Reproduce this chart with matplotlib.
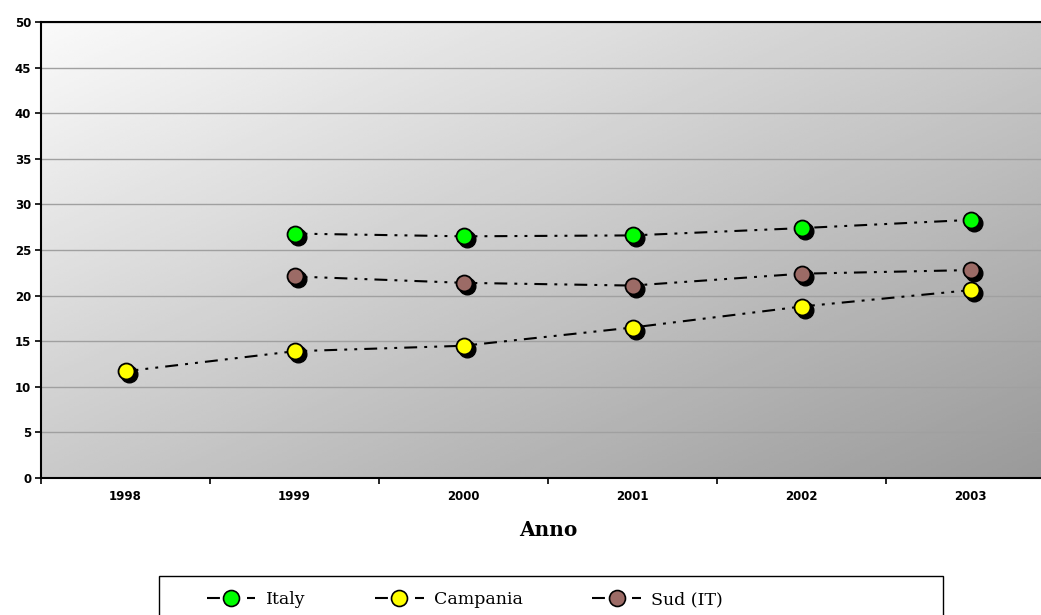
import matplotlib.pyplot as plt
import matplotlib.transforms as mtransforms
from matplotlib.patches import Rectangle
import numpy as np

years = ["1998", "1999", "2000", "2001", "2002", "2003"]
italy = [None, 26.8, 26.5, 26.6, 27.4, 28.3]
campania = [11.7, 13.9, 14.5, 16.5, 18.8, 20.6]
sud = [None, 22.1, 21.4, 21.1, 22.4, 22.8]

series = [
    ("Italy", italy, "#00ff00"),
    ("Campania", campania, "#ffff00"),
    ("Sud (IT)", sud, "#9c6b66"),
]

W, H = 1041, 615
fig = plt.figure(figsize=(W / 100, H / 100), dpi=100)
# plot area runs past the right edge of the picture, as in the original
ax = fig.add_axes([41 / W, 1 - 478 / H, (1055 - 41) / W, (478 - 22) / H])

# diagonal grey gradient, light top-left to dark bottom-right
gx, gy = np.meshgrid(np.linspace(0, 1, 200), np.linspace(0, 1, 200))
t = (gx + gy) / 2
ax.imshow(0.98 - 0.38 * t, cmap="gray", vmin=0, vmax=1, extent=[0, 1, 0, 1],
          transform=ax.transAxes, aspect="auto", zorder=0, origin="upper")

x = np.arange(len(years))
dash = (0, (6.2, 3.4, 1.4, 3.4, 1.4, 3.4))
shadow = mtransforms.ScaledTranslation(3 / 100, -3 / 100, fig.dpi_scale_trans)
handles = []
for name, vals, color in series:
    xs = [xi for xi, v in zip(x, vals) if v is not None]
    ys = [v for v in vals if v is not None]
    ax.plot(xs, ys, linestyle=dash, color="black", lw=1.5, zorder=3)
    ax.plot(xs, ys, linestyle="none", marker="o", ms=12, mfc="black",
            mec="black", transform=ax.transData + shadow, zorder=4)
    ax.plot(xs, ys, linestyle="none", marker="o", ms=11.5, mfc=color,
            mec="black", mew=1.3, zorder=5)
    handles.append(ax.plot([], [], linestyle=dash, color="black", lw=1.5,
                           marker="o", ms=11.5, mfc=color, mec="black",
                           mew=1.2)[0])

ax.set_xlim(-0.5, len(years) - 0.5)
ax.set_ylim(0, 50)
ax.set_yticks(range(0, 51, 5))
ax.set_xticks(x)
ax.set_xticklabels(years)
ax.set_xticks(np.arange(-0.5, len(years), 1), minor=True)
ax.tick_params(axis="x", which="major", length=0, pad=9)
ax.tick_params(axis="x", which="minor", length=4, width=1.2, direction="out")
ax.tick_params(axis="y", length=4, width=1.2, pad=3)
for lab in ax.get_xticklabels() + ax.get_yticklabels():
    lab.set_fontweight("bold")
    lab.set_fontsize(8.5)
    lab.set_family("DejaVu Sans")
ax.grid(axis="y", color="#a0a0a0", lw=1)
ax.set_axisbelow(True)
for s in ax.spines.values():
    s.set_linewidth(1.5)
ax.spines["right"].set_visible(False)

ax.set_xlabel("Anno", fontsize=14.5, fontweight="bold", family="DejaVu Serif",
              labelpad=12)

# legend box is wider than its entries
fig.patches.append(Rectangle((159 / W, -0.05), (943 - 159) / W,
                             1 - 576 / H + 0.05, transform=fig.transFigure,
                             facecolor="white", edgecolor="black", lw=1))
leg = fig.legend(handles, [s[0] for s in series], loc="center left",
                 bbox_to_anchor=(193 / W, 1 - 600 / H), ncol=3,
                 prop={"family": "DejaVu Serif", "size": 12.5},
                 frameon=False, handlelength=2.8, columnspacing=4.0,
                 handletextpad=0.6, borderpad=0.3)

fig.savefig("out.png", dpi=100)
